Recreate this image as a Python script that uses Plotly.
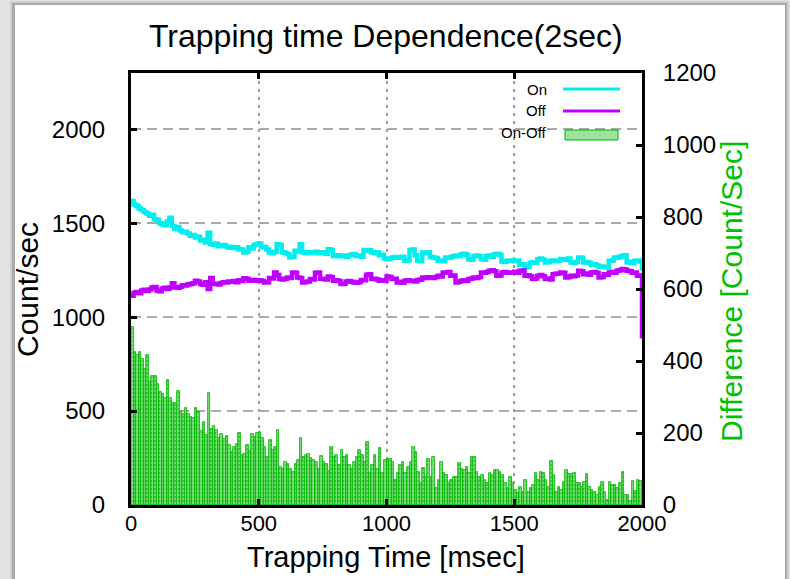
import plotly.graph_objects as go

# ---------------- data ----------------
bin_width_msec = 10
time_msec = list(range(0, 2001, bin_width_msec))  # step positions (201)

on_counts = [
    1618, 1600, 1592, 1578, 1570, 1560, 1552, 1540, 1545, 1522,
    1518, 1500, 1494, 1490, 1510, 1530, 1485, 1470, 1480, 1462,
    1452, 1455, 1445, 1433, 1438, 1424, 1428, 1408, 1412, 1397,
    1450, 1390, 1386, 1392, 1378, 1382, 1384, 1376, 1370, 1374,
    1368, 1372, 1362, 1360, 1344, 1348, 1372, 1366, 1384, 1388,
    1392, 1371, 1374, 1360, 1344, 1340, 1348, 1388, 1384, 1346,
    1342, 1335, 1318, 1320, 1353, 1350, 1388, 1344, 1340, 1346,
    1342, 1344, 1348, 1340, 1344, 1346, 1338, 1362, 1358, 1326,
    1330, 1324, 1328, 1326, 1322, 1330, 1334, 1336, 1326, 1328,
    1322, 1357, 1352, 1358, 1344, 1340, 1346, 1330, 1332, 1312,
    1309, 1312, 1318, 1320, 1316, 1318, 1322, 1300, 1302, 1357,
    1360, 1330, 1300, 1298, 1344, 1340, 1346, 1320, 1318, 1315,
    1300, 1302, 1298, 1318, 1316, 1320, 1326, 1328, 1324, 1335,
    1338, 1332, 1309, 1306, 1326, 1328, 1324, 1309, 1306, 1326,
    1328, 1322, 1335, 1338, 1332, 1297, 1294, 1300, 1302, 1300,
    1298, 1302, 1279, 1282, 1264, 1268, 1290, 1292, 1290, 1309,
    1312, 1306, 1291, 1294, 1300, 1302, 1298, 1300, 1310, 1309,
    1306, 1312, 1291, 1288, 1294, 1318, 1316, 1291, 1294, 1290,
    1279, 1282, 1276, 1268, 1270, 1266, 1264, 1300, 1302, 1318,
    1316, 1322, 1326, 1330, 1291, 1295, 1288, 1300, 1302, 1296,
    1247,
]

off_counts = [
    1114, 1130, 1134, 1128, 1142, 1146, 1140, 1148, 1158, 1160,
    1141, 1138, 1152, 1156, 1150, 1158, 1180, 1160, 1156, 1162,
    1170, 1168, 1174, 1176, 1180, 1194, 1190, 1176, 1172, 1186,
    1150, 1208, 1176, 1178, 1174, 1182, 1186, 1184, 1190, 1188,
    1192, 1186, 1196, 1192, 1207, 1205, 1194, 1196, 1198, 1194,
    1196, 1192, 1185, 1186, 1208, 1206, 1238, 1224, 1203, 1200,
    1205, 1211, 1208, 1238, 1236, 1211, 1209, 1185, 1187, 1190,
    1203, 1200, 1236, 1238, 1205, 1203, 1200, 1216, 1214, 1194,
    1196, 1192, 1176, 1178, 1190, 1192, 1188, 1185, 1183, 1187,
    1198, 1196, 1226, 1229, 1203, 1205, 1200, 1194, 1196, 1194,
    1216, 1214, 1203, 1205, 1185, 1188, 1183, 1194, 1196, 1192,
    1194, 1190, 1198, 1200, 1211, 1208, 1213, 1211, 1209, 1214,
    1220, 1216, 1238, 1236, 1240, 1220, 1222, 1185, 1188, 1194,
    1196, 1192, 1203, 1206, 1211, 1209, 1214, 1238, 1236, 1240,
    1247, 1250, 1244, 1220, 1222, 1238, 1240, 1236, 1238, 1238,
    1242, 1236, 1247, 1249, 1220, 1223, 1218, 1203, 1206, 1220,
    1224, 1218, 1203, 1206, 1200, 1229, 1231, 1233, 1238, 1236,
    1211, 1214, 1220, 1218, 1222, 1247, 1244, 1229, 1232, 1226,
    1238, 1240, 1236, 1211, 1214, 1229, 1226, 1238, 1240, 1236,
    1247, 1250, 1256, 1254, 1247, 1244, 1236, 1238, 1220, 1222,
    886,
]

diff_counts = [
    495, 425, 416, 425, 406, 379, 418, 342, 358, 358,
    337, 314, 309, 298, 346, 296, 282, 284, 316, 258,
    254, 269, 254, 245, 243, 269, 258, 205, 230, 194,
    310, 212, 220, 208, 185, 198, 182, 191, 166, 148,
    160, 170, 200, 139, 143, 166, 150, 196, 189, 199,
    203, 185, 162, 134, 180, 152, 160, 208, 106, 100,
    120, 115, 100, 92, 115, 125, 185, 134, 139, 142,
    130, 125, 120, 100, 136, 120, 115, 95, 162, 134,
    139, 110, 152, 134, 139, 111, 100, 120, 134, 152,
    139, 120, 175, 88, 111, 139, 100, 157, 90, 125,
    129, 129, 120, 69, 88, 111, 120, 88, 106, 120,
    162, 148, 92, 60, 102, 78, 129, 78, 134, 46,
    69, 120, 88, 83, 60, 69, 78, 78, 117, 100,
    97, 106, 88, 132, 132, 92, 78, 83, 70, 60,
    88, 83, 97, 97, 92, 83, 60, 46, 78, 60,
    42, 32, 51, 35, 69, 37, 46, 55, 88, 69,
    92, 90, 69, 51, 123, 83, 37, 51, 42, 65,
    97, 86, 86, 90, 60, 62, 51, 65, 86, 51,
    42, 37, 28, 51, 65, 37, 14, 65, 55, 55,
    46, 60, 92, 28, 28, 12, 66, 40, 69, 66,
]

bar_centers = [t + bin_width_msec / 2 for t in time_msec[:-1]]

x_ticks = [0, 500, 1000, 1500, 2000]
y_left_ticks = [0, 500, 1000, 1500, 2000]
y_right_ticks = [0, 200, 400, 600, 800, 1000, 1200]

legend_labels = ["On", "Off", "On-Off"]

# ---------------- styles ----------------
FONT = "Liberation Sans, Arial, sans-serif"
CYAN = "#00eeee"
PURPLE = "#c000ff"
GREEN = "#00c000"

fig = go.Figure()

fig.add_trace(go.Bar(
    x=bar_centers, y=diff_counts, width=bin_width_msec, yaxis="y2",
    name=legend_labels[2],
    marker=dict(color="#3acc3a", line=dict(color="#00b400", width=0.8),
                pattern=dict(shape="+", fgcolor="#ffffff", bgcolor="#36cc36",
                             size=4, solidity=0.45)),
))
fig.add_trace(go.Scatter(
    x=time_msec, y=on_counts, mode="lines", name=legend_labels[0],
    line=dict(color=CYAN, width=4.5, shape="hv"), yaxis="y",
))
fig.add_trace(go.Scatter(
    x=time_msec, y=off_counts, mode="lines", name=legend_labels[1],
    line=dict(color=PURPLE, width=4.5, shape="hv"), yaxis="y",
))

L, R, T, B = 131, 148, 73, 74
W, H = 790, 579
pw, ph = W - L - R, H - T - B


def px(xp):
    return (xp - L) / pw


def py(yp):
    return (H - B - yp) / ph


shapes = [
    # card shadow + white card
    dict(type="rect", xref="paper", yref="paper", layer="below",
         x0=px(10), x1=px(789), y0=py(620), y1=py(1),
         fillcolor="#cfcfcf", line=dict(width=0)),
    dict(type="rect", xref="paper", yref="paper", layer="below",
         x0=px(12), x1=px(787), y0=py(620), y1=py(3),
         fillcolor="#a9a9a9", line=dict(width=0)),
    dict(type="rect", xref="paper", yref="paper", layer="below",
         x0=px(15), x1=px(785), y0=py(620), y1=py(5),
         fillcolor="white", line=dict(width=0)),
    # legend samples
    dict(type="line", xref="paper", yref="paper",
         x0=px(563), x1=px(620), y0=py(89), y1=py(89),
         line=dict(color=CYAN, width=3)),
    dict(type="line", xref="paper", yref="paper",
         x0=px(563), x1=px(620), y0=py(111), y1=py(111),
         line=dict(color=PURPLE, width=3)),
    dict(type="rect", xref="paper", yref="paper",
         x0=px(565), x1=px(618), y0=py(140), y1=py(130),
         fillcolor="#9fe39f", line=dict(color="#00b000", width=1)),
]


def ann(text, x, y, size, color="black", angle=0, xanchor="center"):
    return dict(text=text, xref="paper", yref="paper", x=px(x), y=py(y),
                xanchor=xanchor, yanchor="middle", textangle=angle,
                showarrow=False, font=dict(family=FONT, size=size, color=color))


annotations = [
    ann("Trapping time Dependence(2sec)", 386, 36, 32),
    ann("Trapping Time [msec]", 386, 557, 29),
    ann("Count/sec", 27, 290, 30, angle=-90),
    ann("Difference [Count/Sec]", 731, 292, 30, color=GREEN, angle=-90),
]
for lbl, yy in zip(legend_labels, [89, 111, 133]):
    annotations.append(ann(lbl, 549, yy, 15, xanchor="right"))

fig.update_layout(
    width=W, height=H,
    margin=dict(l=L, r=R, t=T, b=B, pad=0),
    paper_bgcolor="#e2e2e2",
    plot_bgcolor="white",
    showlegend=False,
    bargap=0,
    font=dict(family=FONT, size=24, color="black"),
    shapes=shapes,
    annotations=annotations,
    xaxis=dict(
        range=[0, 2000], tickvals=x_ticks, ticks="inside", ticklen=6, tickwidth=3,
        tickcolor="black", showline=True, linecolor="black", linewidth=3,
        mirror="ticks", showgrid=True, gridcolor="#9a9a9a", gridwidth=2,
        griddash="3px,5px", zeroline=False, ticklabelstandoff=-3,
        tickfont=dict(size=22),
    ),
    yaxis=dict(
        range=[0, 2300], tickvals=y_left_ticks, ticks="inside", ticklen=6,
        tickwidth=3, tickcolor="black", showline=True, linecolor="black",
        linewidth=3, showgrid=True, gridcolor="#a8a8a8", gridwidth=1.5,
        griddash="10px,6px", zeroline=False, ticklabelstandoff=18,
    ),
    yaxis2=dict(
        range=[0, 1200], tickvals=y_right_ticks, ticks="inside", ticklen=6,
        tickwidth=3, tickcolor="black", showline=True, linecolor="black",
        linewidth=3, overlaying="y", side="right", showgrid=False,
        zeroline=False, ticklabelstandoff=13,
    ),
)

fig.write_html("out.html")
